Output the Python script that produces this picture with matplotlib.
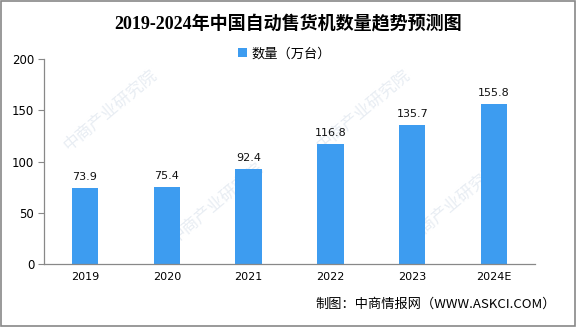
import matplotlib.pyplot as plt
from matplotlib.patches import Rectangle

years = ["2019", "2020", "2021", "2022", "2023", "2024E"]
counts = [73.9, 75.4, 92.4, 116.8, 135.7, 155.8]
yticks = [0, 50, 100, 150, 200]

title = "2019-2024年中国自动售货机数量趋势预测图"
legend_label = "数量（万台）"
source = "制图：中商情报网（WWW.ASKCI.COM）"
watermark = "中商产业研究院"

plt.rcParams["font.family"] = ["DejaVu Sans", "Noto Sans CJK SC"]
bar_color = "#3d9cf0"

fig = plt.figure(figsize=(5.76, 3.27), dpi=100)
ax = fig.add_axes([44 / 576, 1 - 264 / 327, 491 / 576, 205 / 327])

# faint watermarks behind the bars
for wx, wy in [(0.3, 0.75), (1.6, 0.3), (3.4, 0.75), (4.5, 0.3)]:
    ax.text(wx, wy, watermark, transform=ax.get_xaxis_transform(), rotation=40,
            fontsize=12, color="#e8edf3", ha="center", va="center", zorder=0)

x = range(len(years))
ax.bar(x, counts, width=0.32, color=bar_color, label=legend_label, zorder=2)
for xi, v in zip(x, counts):
    ax.text(xi, v + 6, f"{v:.1f}", ha="center", va="bottom", fontsize=8,
            color="#111111", zorder=3)

ax.set_xlim(-0.5, len(years) - 0.5)
ax.set_ylim(0, 200)
ax.set_yticks(yticks)
ax.set_xticks(list(x))
ax.set_xticklabels(years, fontsize=8)
ax.tick_params(axis="x", length=0, pad=6)
ax.tick_params(axis="y", length=4, width=0.8, color="#888888", labelsize=8.5, pad=3)
for s in ["top", "right"]:
    ax.spines[s].set_visible(False)
for s in ["left", "bottom"]:
    ax.spines[s].set_color("#888888")
    ax.spines[s].set_linewidth(0.9)
ax.patch.set_alpha(0)

ax.legend(loc="upper center", bbox_to_anchor=(0.49, 1.115), frameon=False, fontsize=9.5,
          handlelength=0.7, handleheight=0.7, handletextpad=0.3)

fig.text(0.5, 0.927, title, ha="center", va="center", fontsize=13, fontweight="bold",
         family=["Liberation Serif", "Noto Sans CJK SC"])
fig.text(556 / 576, 1 - 304 / 327, source, ha="right", va="center", fontsize=9.5,
         family=["Noto Sans CJK SC", "DejaVu Sans"])

fig.add_artist(Rectangle((0.001, 0.002), 0.997, 0.995, transform=fig.transFigure,
                         fill=False, edgecolor="#888888", linewidth=1.2))

fig.savefig("out.png", dpi=100)
